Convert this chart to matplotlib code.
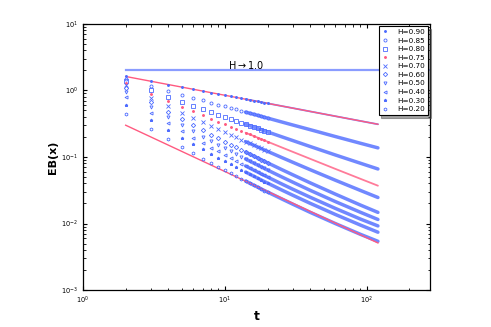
import matplotlib
matplotlib.use("Agg")
import matplotlib.pyplot as plt

# time steps (sparse columns up to 20, then a few points along the dense band)
t = [2, 3, 4, 5, 6, 7, 8, 9, 10, 11, 12, 13, 14, 15, 16, 17, 18, 19, 20,
     25, 30, 40, 60, 90, 120]

# EB(x) for each H
eb_090 = [1.62, 1.375, 1.224, 1.119, 1.039, 0.977, 0.925, 0.882, 0.846, 0.814, 0.786, 0.760, 0.738,
          0.718, 0.700, 0.683, 0.667, 0.653, 0.639, 0.584, 0.543, 0.483, 0.410, 0.348, 0.310]
eb_085 = [1.49, 1.171, 0.987, 0.865, 0.777, 0.709, 0.656, 0.612, 0.575, 0.544, 0.517, 0.493, 0.472,
          0.454, 0.437, 0.422, 0.408, 0.395, 0.384, 0.337, 0.303, 0.257, 0.203, 0.161, 0.137]
eb_080 = [1.40, 1.015, 0.810, 0.681, 0.591, 0.525, 0.474, 0.434, 0.400, 0.372, 0.349, 0.328, 0.311,
          0.295, 0.281, 0.269, 0.258, 0.247, 0.238, 0.202, 0.177, 0.1435, 0.1073, 0.0807, 0.066]
eb_075 = [1.29, 0.898, 0.695, 0.570, 0.486, 0.424, 0.377, 0.340, 0.310, 0.2855, 0.2645, 0.2466, 0.2313,
          0.2178, 0.206, 0.1956, 0.186, 0.1773, 0.1697, 0.140, 0.1198, 0.0937, 0.0663, 0.0471, 0.037]
eb_070 = [1.19, 0.782, 0.583, 0.4654, 0.388, 0.333, 0.292, 0.2604, 0.235, 0.2145, 0.1972, 0.1826, 0.1702,
          0.1594, 0.1499, 0.1417, 0.1341, 0.1273, 0.1215, 0.0987, 0.0835, 0.0643, 0.0448, 0.0315, 0.0246]
eb_060 = [1.08, 0.665, 0.475, 0.3674, 0.299, 0.2516, 0.217, 0.1908, 0.170, 0.1535, 0.1397, 0.1282, 0.1186,
          0.1102, 0.1030, 0.0968, 0.0912, 0.0861, 0.0817, 0.0651, 0.0542, 0.0408, 0.0277, 0.0190, 0.0147]
eb_050 = [0.940, 0.562, 0.394, 0.301, 0.2427, 0.2028, 0.1738, 0.1521, 0.135, 0.1215, 0.1103, 0.1009, 0.0932,
          0.0864, 0.0806, 0.0756, 0.0712, 0.0671, 0.0636, 0.0505, 0.0420, 0.0315, 0.0214, 0.0148, 0.0115]
eb_040 = [0.790, 0.463, 0.321, 0.2433, 0.195, 0.1621, 0.1385, 0.1209, 0.107, 0.0961, 0.0871, 0.0796, 0.0734,
          0.0680, 0.0634, 0.0595, 0.0559, 0.0527, 0.0500, 0.0396, 0.0329, 0.0248, 0.0169, 0.0117, 0.0092]
eb_030 = [0.610, 0.362, 0.253, 0.193, 0.1552, 0.1295, 0.1109, 0.0970, 0.086, 0.0774, 0.0702, 0.0642, 0.0593,
          0.0550, 0.0513, 0.0481, 0.0452, 0.0427, 0.0405, 0.0321, 0.0267, 0.0201, 0.0137, 0.0095, 0.0074]
eb_020 = [0.440, 0.263, 0.184, 0.1406, 0.1133, 0.0946, 0.0811, 0.0710, 0.063, 0.0567, 0.0515, 0.0471, 0.0435,
          0.0403, 0.0376, 0.0353, 0.0332, 0.0313, 0.0297, 0.0236, 0.0196, 0.0147, 0.0100, 0.0069, 0.0054]

labels = ["H=0.90", "H=0.85", "H=0.80", "H=0.75", "H=0.70",
          "H=0.60", "H=0.50", "H=0.40", "H=0.30", "H=0.20"]
series = [eb_090, eb_085, eb_080, eb_075, eb_070, eb_060, eb_050, eb_040, eb_030, eb_020]
markers = [".", "o", "s", ".", "x", "D", "v", "<", "*", "h"]

# reference lines
ref_t = [2, 120]
ref_upper = [1.62, 0.31]
ref_lower = [0.30, 0.0051]
flat_t = [2, 280]
flat_y = [2.0, 2.0]

blue = "#4d6bff"
pink = "#ff5a80"

fig = plt.figure(figsize=(4.91, 3.27), dpi=100)
ax = fig.add_axes([0.169, 0.113, 0.707, 0.814])

ax.plot(flat_t, flat_y, color="#8a9cff", lw=1.6)
ax.text(14, 2.45, r"H$\rightarrow$1.0", fontsize=7, ha="center", va="center")

ax.plot(ref_t, ref_upper, color=pink, lw=1.0, zorder=3)
ax.plot(ref_t, ref_lower, color=pink, lw=1.0, zorder=3)

for vals, lab, m in zip(series, labels, markers):
    col = pink if lab == "H=0.75" else blue
    # dense part: markers overlap into a thick band
    dense_t = [x for x in t if x >= 14]
    dense_v = [v for x, v in zip(t, vals) if x >= 14]
    sparse_t = [x for x in t if x <= 20]
    sparse_v = [v for x, v in zip(t, vals) if x <= 20]
    lw = 1.3 if m == "." else 2.5
    ax.plot(dense_t, dense_v, color=col, lw=lw, alpha=0.8, solid_capstyle="round", zorder=2)
    if m == ".":
        ax.plot(sparse_t, sparse_v, ls="none", marker=".", ms=2.2, color=col, label=lab, zorder=4)
    else:
        ax.plot(sparse_t, sparse_v, ls="none", marker=m, ms=2.2, mfc="none", mec=col, mew=0.6,
                label=lab, zorder=4)

ax.set_xscale("log")
ax.set_yscale("log")
ax.set_xlim(1, 280)
ax.set_ylim(1e-3, 1e1)

ax.tick_params(which="both", direction="in", top=True, right=True, labelsize=4.8)
ax.tick_params(which="major", length=3)
ax.tick_params(which="minor", length=1.8)
for s in ax.spines.values():
    s.set_linewidth(0.9)

ax.set_xlabel("t", fontsize=9, fontweight="bold", labelpad=3)
ax.set_ylabel("EB(x)", fontsize=8, fontweight="bold", labelpad=2)

leg = ax.legend(loc="upper right", fontsize=5.2, numpoints=1, handlelength=1.0,
                handletextpad=1.2, borderaxespad=0.3, labelspacing=0.35,
                fancybox=False, edgecolor="black", framealpha=1, shadow=True)
leg.get_frame().set_linewidth(0.8)

fig.savefig("out.png", dpi=100)
